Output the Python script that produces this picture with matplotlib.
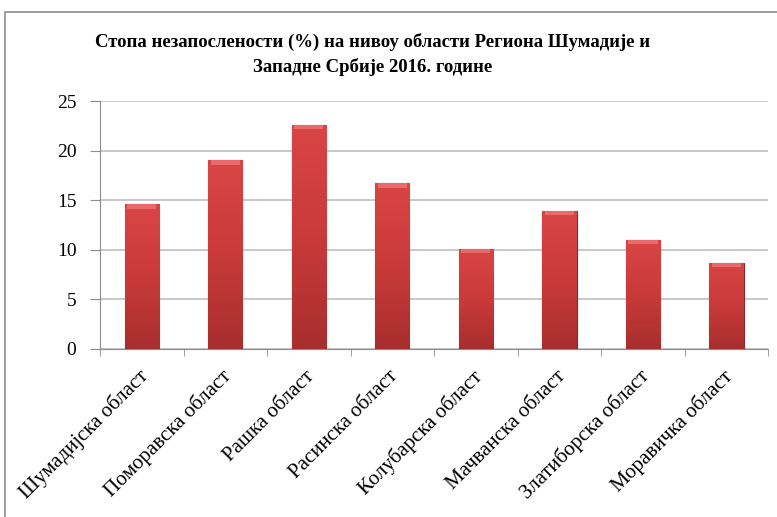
import matplotlib.pyplot as plt
from matplotlib.patches import Rectangle
from matplotlib.colors import LinearSegmentedColormap
import matplotlib.transforms as mtransforms
import numpy as np

categories = ["Шумадијска област", "Поморавска област", "Рашка област", "Расинска област",
              "Колубарска област", "Мачванска област", "Златиборска област", "Моравичка област"]
values = [14.6, 19.0, 22.6, 16.7, 10.1, 13.9, 11.0, 8.7]
yticks = [0, 5, 10, 15, 20, 25]

plt.rcParams['font.family'] = ['Liberation Serif', 'DejaVu Serif']

fig = plt.figure(figsize=(7.77, 5.17), dpi=100)
ax = fig.add_axes([0.1287, 0.3255, 0.86, 0.4791])

# outer chart frame
fig.patches.append(Rectangle((5 / 777, -0.01), 1.0, 1 - 12 / 517 + 0.01,
                             transform=fig.transFigure, fill=False,
                             edgecolor="#8c8c8c", linewidth=1.2))

x = np.arange(len(categories))
bars = ax.bar(x, values, width=0.41, color="#cc3c3c", edgecolor="#8e2626",
              linewidth=0.8, zorder=3)

# vertical gradient fill inside each bar (light top, darker bottom)
cmap = LinearSegmentedColormap.from_list("bar", ["#a82e2e", "#c93a3a", "#d94545"])
grad = np.linspace(0, 1, 256).reshape(-1, 1)
for b in bars:
    x0, w, h = b.get_x(), b.get_width(), b.get_height()
    im = ax.imshow(grad, extent=[x0, x0 + w, 0, h], origin="lower", cmap=cmap,
                   aspect="auto", zorder=3.5)
    im.set_clip_path(b)
# light bevel at the top of each bar
ax.bar(x, [0.45] * len(values), bottom=np.array(values) - 0.45, width=0.35,
       color="#e86a6a", linewidth=0, zorder=4)

ax.set_xlim(-0.5, len(categories) - 0.5)
ax.set_ylim(0, 25)
ax.set_yticks(yticks)
ax.set_yticklabels([str(v) for v in yticks], fontsize=14)
ax.yaxis.grid(True, color="#bfbfbf", linewidth=1.2, zorder=0)

ax.set_xticks(x)
ax.set_xticks(np.arange(len(categories) + 1) - 0.5, minor=True)
ax.tick_params(axis="x", which="major", length=0, pad=0)
ax.tick_params(axis="x", which="minor", length=5, color="#8c8c8c")
ax.tick_params(axis="y", length=7, color="#8c8c8c", pad=10)

ax.set_xticklabels(categories, rotation=45, ha="right", va="center",
                   rotation_mode="anchor", fontsize=15)
# shift labels so their ends sit just below each bar, as in the original
offset = mtransforms.ScaledTranslation(0.03, -0.25, fig.dpi_scale_trans)
for lbl in ax.get_xticklabels():
    lbl.set_transform(lbl.get_transform() + offset)

for s in ["top", "right"]:
    ax.spines[s].set_visible(False)
for s in ["left", "bottom"]:
    ax.spines[s].set_color("#8c8c8c")

ax.set_xlim(-0.5, len(categories) - 0.5)
ax.set_ylim(0, 25)

fig.text(0.479, 0.8946, "Стопа незапослености (%) на нивоу области Региона Шумадије и\nЗападне Србије 2016. године",
         ha="center", va="center", fontsize=13.5, fontweight="bold", linespacing=1.45)

fig.savefig("out.png", dpi=100)
